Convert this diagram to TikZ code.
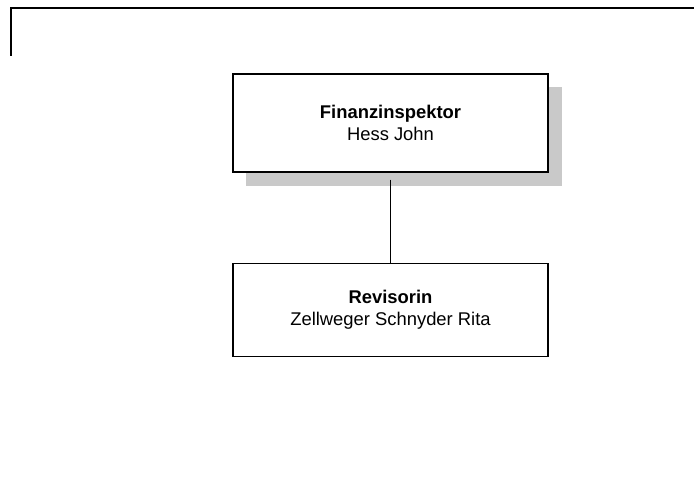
\documentclass[tikz,border=0pt]{standalone}
\usepackage{fontspec}
\setmainfont{Liberation Sans}
\begin{document}
\begin{tikzpicture}[x=1pt,y=-1pt,
  orgbox/.style={draw=black,line width=1.3pt,fill=white,minimum width=315pt,inner sep=0pt,align=center,
    font=\fontsize{18.4pt}{22pt}\selectfont},
  shadowbox/.style={fill=black!21,draw=none,minimum width=316pt,inner sep=0pt},
  frameline/.style={line width=2pt,line cap=rect},
  link/.style={line width=1.3pt}]
\useasboundingbox (0,0) rectangle (694,479);
\draw[frameline] (11,55) -- (11,7.7) -- (693,7.7);
\node[shadowbox,minimum height=99pt] (sh1) at (404,136.5) {};
\node[orgbox,minimum height=98pt] (b1) at (390.5,123) {\textbf{Finanzinspektor}\\Hess John};
\node[orgbox,minimum height=92.5pt] (b2) at (390.5,310) {\textbf{Revisorin}\\Zellweger Schnyder Rita};
\draw[link] ([yshift=-7pt]b1.south) -- (b2.north);
\end{tikzpicture}
\end{document}
